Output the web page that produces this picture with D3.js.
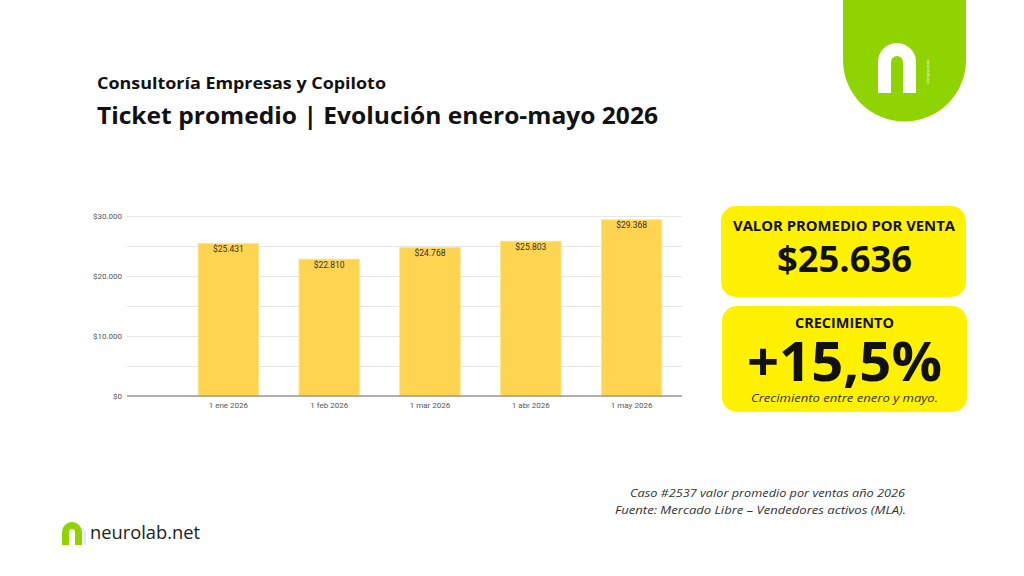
<!DOCTYPE html>
<meta charset="utf-8">
<script src="https://d3js.org/d3.v7.min.js"></script>
<style>
body { margin: 0; background: #fff; }
.grid line { stroke: #e6e6e6; }
.grid path { display: none; }
.axisLbl text { font: 8px Roboto, sans-serif; fill: #555; }
.axisLbl path, .axisLbl line { display: none; }
.barLbl { font: 8.5px Roboto, sans-serif; fill: #333; text-anchor: middle; }
.hd { font-family: "Open Sans", sans-serif; font-weight: 700; fill: #111; }
.foot { font-family: "Open Sans", sans-serif; font-style: italic; font-size: 11.5px; fill: #333; }
</style>
<svg width="1024" height="576"></svg>
<script>

// data
var months = ["1 ene 2026", "1 feb 2026", "1 mar 2026", "1 abr 2026", "1 may 2026"];
var ticket = [25431, 22810, 24768, 25803, 29368];
var yTicks = [0, 10000, 20000, 30000];
var gridTicks = [0, 5000, 10000, 15000, 20000, 25000, 30000];
var promedio = 25636;
var crecimiento = 15.5;

var svg = d3.select("svg");
var fmt = function(v) { return "$" + d3.format(",")(v).replace(/,/g, "."); };

// chart area
var plotL = 127, plotR = 682, plotT = 216, plotB = 396;

var x = d3.scaleBand()
    .domain(months)
    .range([178, plotR])
    .paddingInner(0.4)
    .paddingOuter(0.2);

var y = d3.scaleLinear()
    .domain([0, 30000])
    .range([plotB, plotT]);

// gridlines
svg.append("g")
    .attr("class", "grid")
    .attr("transform", "translate(" + plotL + ",0)")
    .call(d3.axisLeft(y).tickValues(gridTicks).tickSize(-(plotR - plotL)).tickFormat(""));

// y labels
svg.append("g")
    .attr("class", "axisLbl")
    .attr("transform", "translate(" + (plotL - 2) + ",0)")
    .call(d3.axisLeft(y).tickValues(yTicks).tickSize(0).tickFormat(fmt));

// bars
svg.selectAll(".bar")
    .data(ticket)
  .enter().append("rect")
    .attr("class", "bar")
    .attr("x", function(d, i) { return x(months[i]); })
    .attr("y", function(d) { return y(d); })
    .attr("width", x.bandwidth())
    .attr("height", function(d) { return y(0) - y(d); })
    .attr("fill", "#fed451")
    .attr("stroke", "#ffe48a")
    .attr("stroke-width", 0.8);

svg.selectAll(".barLbl")
    .data(ticket)
  .enter().append("text")
    .attr("class", "barLbl")
    .attr("x", function(d, i) { return x(months[i]) + x.bandwidth() / 2; })
    .attr("y", function(d) { return y(d) + 8.5; })
    .text(fmt);

// baseline
svg.append("line")
    .attr("x1", plotL).attr("x2", plotR)
    .attr("y1", y(0)).attr("y2", y(0))
    .attr("stroke", "#999").attr("stroke-width", 1.4);

// x labels
svg.append("g")
    .attr("class", "axisLbl")
    .attr("transform", "translate(0," + (y(0) + 2) + ")")
    .call(d3.axisBottom(x).tickSize(0).tickPadding(4));

// titles
svg.append("text").attr("class", "hd")
    .attr("x", 97).attr("y", 89)
    .attr("font-size", 16).attr("font-weight", 600)
    .attr("textLength", 289).attr("lengthAdjust", "spacingAndGlyphs")
    .text("Consultoría Empresas y Copiloto");

svg.append("text").attr("class", "hd")
    .attr("x", 97).attr("y", 124)
    .attr("font-size", 23)
    .attr("textLength", 561).attr("lengthAdjust", "spacingAndGlyphs")
    .text("Ticket promedio | Evolución enero-mayo 2026");

// top right logo
svg.append("path")
    .attr("d", "M843,0 V60 A61.5,61.5 0 0 0 966,60 V0 Z")
    .attr("fill", "#8fd400");
svg.append("path")
    .attr("d", "M884.5,93 V62 A12.5,12.5 0 0 1 909.5,62 V93")
    .attr("fill", "none").attr("stroke", "#fff").attr("stroke-width", 13);
svg.append("text")
    .attr("transform", "translate(927,60) rotate(90)")
    .attr("font-size", 4).attr("fill", "#fff")
    .attr("font-family", "Open Sans, sans-serif")
    .text("neurolab.net");

// cards
var cards = svg.append("g");
cards.append("rect").attr("x", 721).attr("y", 206).attr("width", 245).attr("height", 91)
    .attr("rx", 15).attr("fill", "#fff100");
cards.append("rect").attr("x", 722).attr("y", 306).attr("width", 245).attr("height", 106)
    .attr("rx", 15).attr("fill", "#fff100");

cards.append("text").attr("class", "hd")
    .attr("x", 733).attr("y", 231).attr("font-size", 13.5)
    .attr("textLength", 222).attr("lengthAdjust", "spacingAndGlyphs")
    .text("VALOR PROMEDIO POR VENTA");
cards.append("text").attr("class", "hd")
    .attr("x", 777).attr("y", 272).attr("font-size", 35)
    .attr("textLength", 135).attr("lengthAdjust", "spacingAndGlyphs")
    .text(fmt(promedio));
cards.append("text").attr("class", "hd")
    .attr("x", 795).attr("y", 328).attr("font-size", 13.5)
    .attr("textLength", 99).attr("lengthAdjust", "spacingAndGlyphs")
    .text("CRECIMIENTO");
cards.append("text").attr("class", "hd")
    .attr("x", 747).attr("y", 381).attr("font-size", 53)
    .attr("textLength", 195).attr("lengthAdjust", "spacingAndGlyphs")
    .text("+" + String(crecimiento).replace(".", ",") + "%");
cards.append("text").attr("class", "foot")
    .attr("x", 751).attr("y", 402).attr("font-size", 11.5).attr("fill", "#222")
    .attr("textLength", 187).attr("lengthAdjust", "spacingAndGlyphs")
    .text("Crecimiento entre enero y mayo.");

// footer
svg.append("text").attr("class", "foot")
    .attr("x", 630).attr("y", 497)
    .attr("textLength", 275).attr("lengthAdjust", "spacingAndGlyphs")
    .text("Caso #2537 valor promedio por ventas año 2026");
svg.append("text").attr("class", "foot")
    .attr("x", 615).attr("y", 514)
    .attr("textLength", 291).attr("lengthAdjust", "spacingAndGlyphs")
    .text("Fuente: Mercado Libre – Vendedores activos (MLA).");

// bottom left logo
svg.append("path")
    .attr("d", "M65.5,545 V532 A6.5,6.5 0 0 1 78.5,532 V545")
    .attr("fill", "none").attr("stroke", "#8fd400").attr("stroke-width", 7);
svg.append("line")
    .attr("x1", 85).attr("x2", 85).attr("y1", 530).attr("y2", 545)
    .attr("stroke", "#b8dcf5").attr("stroke-width", 1);
svg.append("text")
    .attr("x", 90).attr("y", 539)
    .attr("font-family", "Open Sans, sans-serif").attr("font-size", 18).attr("fill", "#222")
    .attr("textLength", 110).attr("lengthAdjust", "spacingAndGlyphs")
    .text("neurolab.net");

</script>
